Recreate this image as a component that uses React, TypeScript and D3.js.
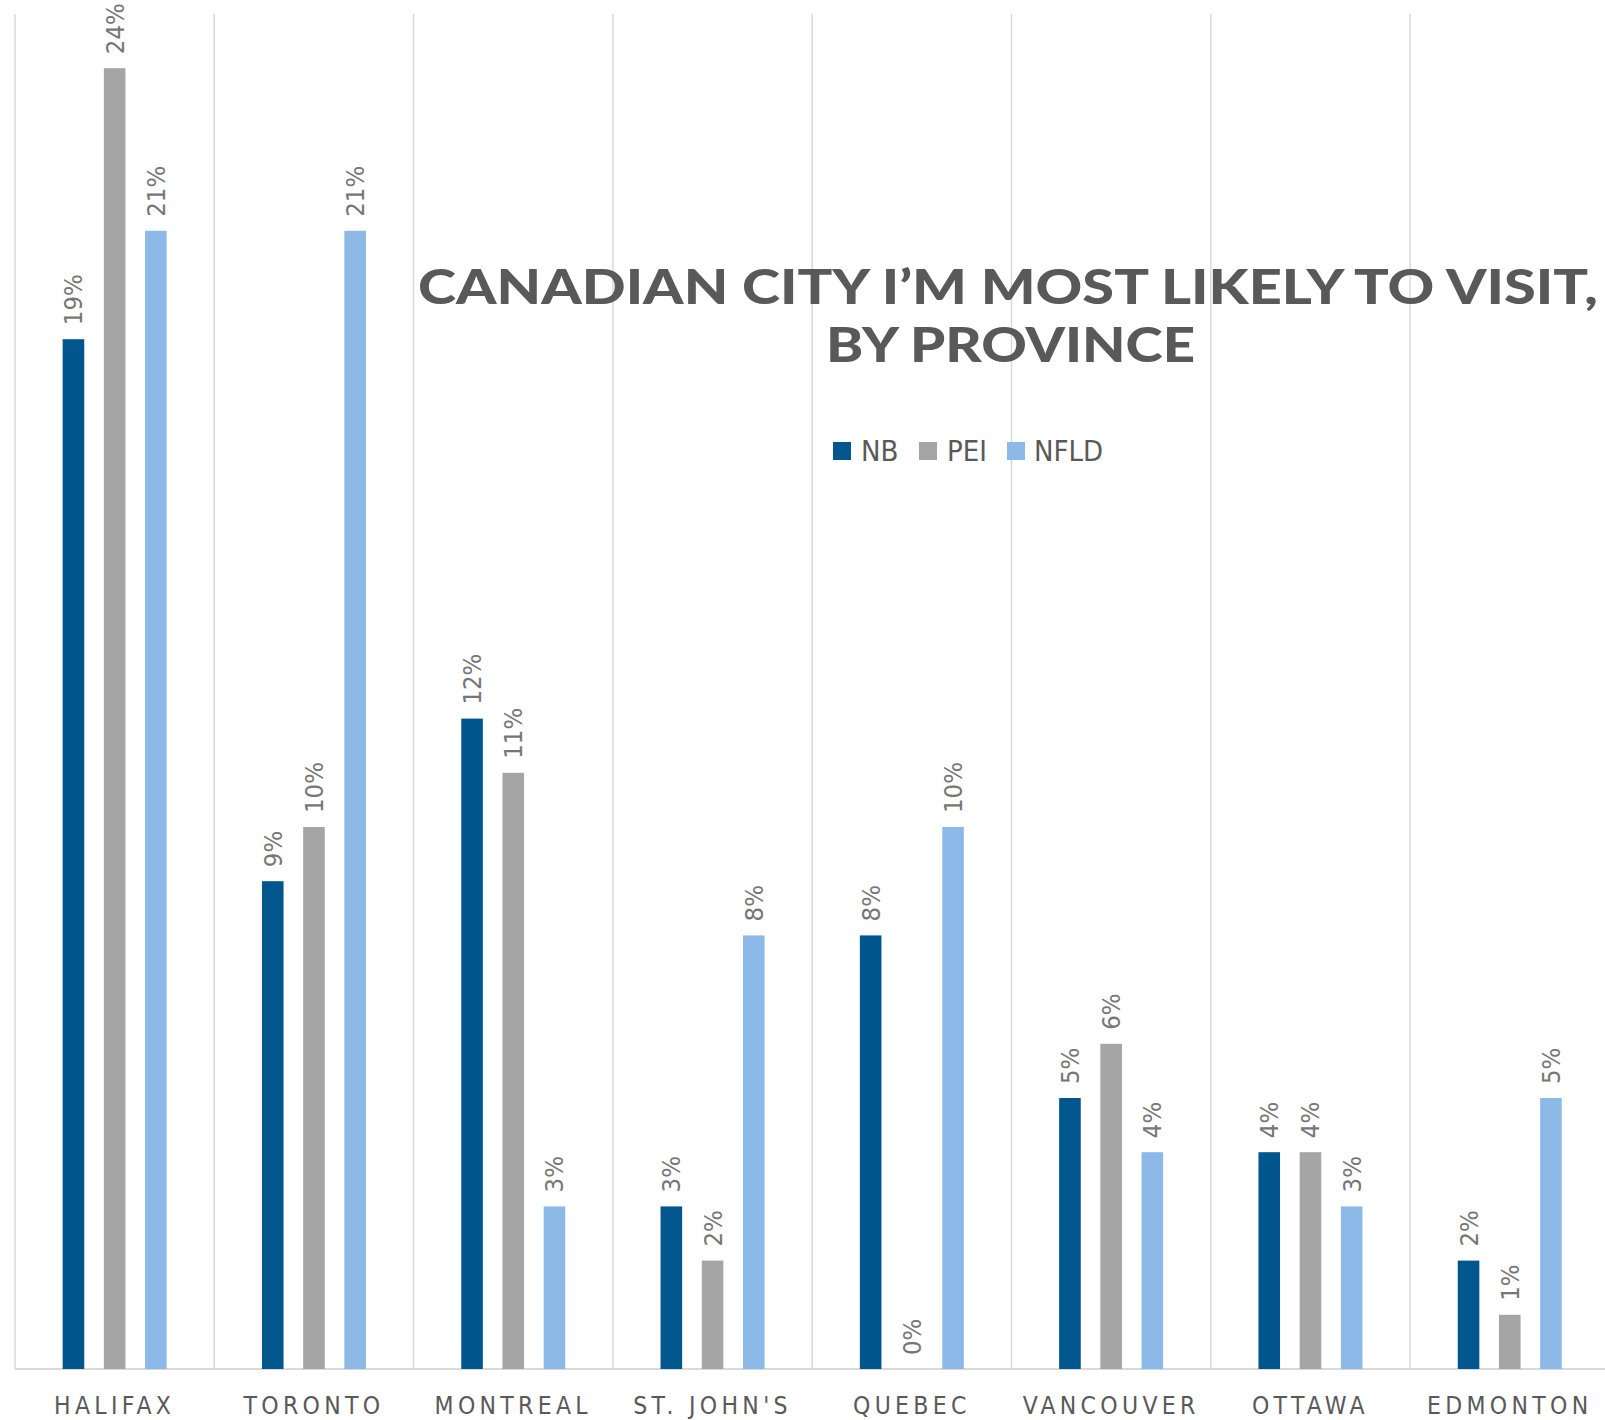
import React from "react";
import * as d3 from "d3";

const categories = ["HALIFAX", "TORONTO", "MONTREAL", "ST. JOHN'S", "QUEBEC", "VANCOUVER", "OTTAWA", "EDMONTON"];
const seriesNames = ["NB", "PEI", "NFLD"];
const nbValues = [19, 9, 12, 3, 8, 5, 4, 2];
const peiValues = [24, 10, 11, 2, 0, 6, 4, 1];
const nfldValues = [21, 21, 3, 8, 10, 4, 3, 5];
const seriesColors = ["#02568E", "#A5A5A5", "#8DB9E8"];
const titleLines = ["CANADIAN CITY I\u2019M MOST LIKELY TO VISIT,", "BY PROVINCE"];

const W = 1605;
const H = 1420;
const plotLeft = 15;
const plotRight = 15 + 8 * 199.3;
const plotTop = 14;
const plotBottom = 1369;

const NARROW = "'Liberation Sans Narrow', 'Arial Narrow', 'DejaVu Sans Condensed', 'Open Sans', sans-serif";

export default function App() {
  const series = [nbValues, peiValues, nfldValues];
  const x = d3.scaleBand<string>().domain(categories).range([plotLeft, plotRight]).padding(0);
  const cw = x.bandwidth();
  const xs = d3
    .scaleBand<string>()
    .domain(seriesNames)
    .range([cw / 2 - 52, cw / 2 + 52])
    .paddingInner(0.476)
    .paddingOuter(0);
  const y = d3.scaleLinear().domain([0, 25]).range([plotBottom, plotTop]);

  const gridXs = categories.map((c) => x(c) as number).concat([plotRight]);

  const legendItems = [
    { name: "NB", sq: 833, tx: 861 },
    { name: "PEI", sq: 919, tx: 947 },
    { name: "NFLD", sq: 1007, tx: 1034 },
  ];

  return (
    <div style={{ position: "absolute", left: 0, top: 0, width: W, height: H, overflow: "hidden" }}>
      <svg width={W} height={H} style={{ display: "block" }} xmlns="http://www.w3.org/2000/svg">
        <rect x={0} y={0} width={W} height={H} fill="#ffffff" />
        {gridXs.map((gx, i) => (
          <line key={"g" + i} x1={gx} x2={gx} y1={plotTop} y2={plotBottom} stroke="#D9D9D9" strokeWidth={1.5} />
        ))}
        <line x1={plotLeft} x2={plotRight} y1={plotBottom} y2={plotBottom} stroke="#D9D9D9" strokeWidth={2} />
        {categories.map((c, ci) =>
          series.map((vals, si) => {
            const bx = (x(c) as number) + (xs(seriesNames[si]) as number);
            const v = vals[ci];
            const top = y(v);
            return (
              <g key={c + si}>
                {v > 0 && (
                  <rect x={bx} y={top} width={xs.bandwidth()} height={plotBottom - top} fill={seriesColors[si]} />
                )}
                <text
                  transform={`translate(${bx + xs.bandwidth() / 2},${top - 14}) rotate(-90)`}
                  dominantBaseline="central"
                  textAnchor="start"
                  fontFamily={NARROW}
                  fontSize={25.5}
                  fill="#767676"
                >
                  {v + "%"}
                </text>
              </g>
            );
          })
        )}
        {categories.map((c) => (
          <text
            key={"l" + c}
            x={(x(c) as number) + cw / 2}
            y={1414}
            textAnchor="middle"
            fontFamily={NARROW}
            fontSize={24.5}
            letterSpacing={4.3}
            fill="#595959"
          >
            {c}
          </text>
        ))}
        <text
          x={418}
          y={304}
          fontFamily="Lato, 'Open Sans', sans-serif"
          fontWeight={900}
          fontSize={48}
          fill="#595959"
          textLength={1180}
          lengthAdjust="spacingAndGlyphs"
        >
          {titleLines[0]}
        </text>
        <text
          x={826}
          y={362}
          fontFamily="Lato, 'Open Sans', sans-serif"
          fontWeight={900}
          fontSize={48}
          fill="#595959"
          textLength={369}
          lengthAdjust="spacingAndGlyphs"
        >
          {titleLines[1]}
        </text>
        {legendItems.map((it, i) => (
          <g key={"lg" + it.name}>
            <rect x={it.sq} y={442} width={18} height={18} fill={seriesColors[i]} />
            <text x={it.tx} y={461} fontFamily={NARROW} fontSize={29} fill="#595959">
              {it.name}
            </text>
          </g>
        ))}
      </svg>
    </div>
  );
}
